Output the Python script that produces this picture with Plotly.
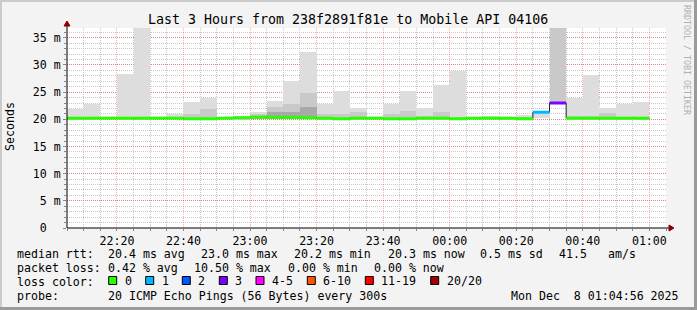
import plotly.graph_objects as go
from datetime import datetime, timedelta

# ---------------- data ----------------
bar_start = ["22:05", "22:10", "22:15", "22:20", "22:25", "22:30", "22:35", "22:40", "22:45", "22:50",
             "22:55", "23:00", "23:05", "23:10", "23:15", "23:20", "23:25", "23:30", "23:35", "23:40",
             "23:45", "23:50", "23:55", "00:00", "00:05", "00:10", "00:15", "00:20", "00:25", "00:30",
             "00:35", "00:40", "00:45", "00:50", "00:55"]
median_ms = [20.2, 20.2, 20.2, 20.2, 20.2, 20.2, 20.2, 20.1, 20.1, 20.2,
             20.3, 20.4, 20.35, 20.35, 20.3, 20.2, 20.1, 20.2, 20.2, 20.1,
             20.1, 20.2, 20.2, 20.1, 20.2, 20.2, 20.2, 20.1, 21.3, 23.0,
             20.2, 20.2, 20.2, 20.2, 20.2]
loss_count = [0] * 28 + [1, 3] + [0] * 5
smoke_min = [20.0] * 28 + [20.3, 23.0] + [20.0] * 5
smoke_max = [21.9, 22.9, 20.0, 28.4, 36.8, 20.0, 21.0, 23.2, 24.0, 20.4,
             20.5, 21.4, 23.4, 27.0, 32.4, 22.8, 25.2, 22.0, 20.0, 22.9,
             25.2, 22.1, 26.3, 28.9, 20.4, 20.7, 20.5, 20.85, 21.3, 36.8,
             24.0, 28.2, 22.0, 22.9, 23.2]
smoke_mid = [20.4, 20.4, 20.0, 20.4, 20.4, 20.0, 20.4, 20.9, 21.9, 20.0,
             20.3, 21.0, 22.3, 22.8, 24.9, 20.9, 21.0, 21.4, 20.0, 20.9,
             21.6, 20.6, 21.4, 20.4, 20.0, 20.4, 20.3, 20.4, 20.3, 36.8,
             20.6, 20.6, 21.1, 20.4, 20.4]
smoke_dark = [20.0] * 11 + [20.7, 21.3, 21.4, 22.3] + [20.0] * 14 + [23.0] + [20.0] * 5

loss_labels = ["0", "1", "2", "3", "4-5", "6-10", "11-19", "20/20"]
loss_colors = ["#26ff00", "#00b8ff", "#0059ff", "#7e00ff", "#ff00ff", "#ff5500", "#ff0000", "#a00000"]
loss_class_of = {0: 0, 1: 1, 2: 2, 3: 3}

y_tickvals = [0, 5, 10, 15, 20, 25, 30, 35]
y_ticktext = ["0\u00a0\u00a0", "5 m", "10 m", "15 m", "20 m", "25 m", "30 m", "35 m"]

title = "Last 3 Hours from 238f2891f81e to Mobile API 04106"
stats_rtt = ["median\u00a0rtt:", "20.4 ms avg", "23.0 ms max", "20.2 ms min", "20.3 ms now", "0.5 ms sd", "41.5", "am/s"]
stats_loss = ["packet loss:", "0.42 % avg", "10.50 % max", "0.00 % min", "0.00 % now"]
probe_text = ["probe:", "20 ICMP Echo Pings (56 Bytes) every 300s"]
date_text = "Mon Dec\u00a0\u00a08 01:04:56 2025"

# ---------------- geometry ----------------
W, H = 697, 310
L, R, T, B = 67, 666, 28, 228
MONO = "DejaVu Sans Mono"


def px(x):
    return (x - L) / (R - L)


def py(y):
    return (B - y) / (B - T)


day0 = datetime(2025, 12, 7)


def to_dt(s):
    h, m = map(int, s.split(":"))
    d = day0 + timedelta(hours=h, minutes=m)
    if h < 12:
        d += timedelta(days=1)
    return d


STEP = timedelta(minutes=5)
starts = [to_dt(s) for s in bar_start]
ends = [s + STEP for s in starts]
centers = [s + STEP / 2 for s in starts]

fig = go.Figure()


def smoke(top, color):
    fig.add_trace(go.Bar(
        x=centers, y=[max(t - b, 0) for t, b in zip(top, smoke_min)], base=smoke_min,
        width=300000, marker=dict(color=color, line=dict(width=0)), showlegend=False,
        hoverinfo="skip"))


smoke(smoke_max, "#dddddd")
smoke(smoke_mid, "#c9c9c9")
smoke(smoke_dark, "#a9a9a9")

# thin dark median step line
fig.add_trace(go.Scatter(x=starts + [ends[-1]], y=median_ms + [median_ms[-1]], mode="lines",
                         line=dict(color="#202020", width=1, shape="hv"), showlegend=False,
                         hoverinfo="skip"))
# coloured median segments by loss class
for ci, col in enumerate(loss_colors):
    xs, ys = [], []
    for s, e, m, lc in zip(starts, ends, median_ms, loss_count):
        if loss_class_of.get(lc, -1) == ci:
            xs += [s, e, None]
            ys += [m, m, None]
    if xs:
        fig.add_trace(go.Scatter(x=xs, y=ys, mode="lines", line=dict(color=col, width=3),
                                 showlegend=False, hoverinfo="skip", connectgaps=False))

major_grid = "rgba(255,0,0,0.32)"
minor_grid = "#c8c8c8"

fig.update_xaxes(
    type="date", range=[day0 + timedelta(hours=22, minutes=5), day0 + timedelta(hours=25, minutes=5)],
    tick0=day0 + timedelta(hours=22, minutes=20), dtick=20 * 60 * 1000, tickformat="%H:%M",
    showgrid=True, gridcolor=major_grid, griddash="1px,1px", gridwidth=1,
    ticks="outside", ticklen=2, tickcolor="#888888",
    minor=dict(dtick=5 * 60 * 1000, showgrid=True, gridcolor=minor_grid, griddash="1px,1px",
               ticks="outside", ticklen=2, tickcolor="#888888"),
    showline=False, zeroline=False, fixedrange=True,
    tickfont=dict(family=MONO, size=11.6, color="black"))
fig.update_yaxes(
    range=[0, 36.8], tickvals=y_tickvals, ticktext=y_ticktext,
    showgrid=True, gridcolor=major_grid, griddash="1px,1px", gridwidth=1,
    ticks="outside", ticklen=3, tickcolor="#888888",
    minor=dict(dtick=1, showgrid=True, gridcolor=minor_grid, griddash="1px,1px",
               ticks="outside", ticklen=2, tickcolor="#888888"),
    showline=False, zeroline=False, fixedrange=True,
    tickfont=dict(family=MONO, size=11.6, color="black"))

shapes = []
# frame (3D border)
shapes.append(dict(type="rect", xref="paper", yref="paper", x0=px(0), x1=px(W), y0=py(0), y1=py(2),
                   fillcolor="#cbcbcb", line=dict(width=0), layer="above"))
shapes.append(dict(type="rect", xref="paper", yref="paper", x0=px(0), x1=px(2), y0=py(0), y1=py(H),
                   fillcolor="#cbcbcb", line=dict(width=0), layer="above"))
shapes.append(dict(type="rect", xref="paper", yref="paper", x0=px(0), x1=px(W), y0=py(H - 3), y1=py(H),
                   fillcolor="#9a9a9a", line=dict(width=0), layer="above"))
shapes.append(dict(type="rect", xref="paper", yref="paper", x0=px(W - 3), x1=px(W), y0=py(0), y1=py(H),
                   fillcolor="#9a9a9a", line=dict(width=0), layer="above"))
# axes lines with arrows
shapes.append(dict(type="line", xref="paper", yref="paper", x0=px(67), x1=px(670), y0=py(228), y1=py(228),
                   line=dict(color="black", width=1), layer="above"))
shapes.append(dict(type="line", xref="paper", yref="paper", x0=px(67), x1=px(67), y0=py(228), y1=py(25),
                   line=dict(color="black", width=1), layer="above"))
shapes.append(dict(type="path", xref="paper", yref="paper",
                   path=f"M {px(674)} {py(228)} L {px(669)} {py(225)} L {px(669)} {py(231)} Z",
                   fillcolor="#8b0000", line=dict(color="#8b0000", width=1), layer="above"))
shapes.append(dict(type="path", xref="paper", yref="paper",
                   path=f"M {px(67)} {py(21)} L {px(64)} {py(26)} L {px(70)} {py(26)} Z",
                   fillcolor="#8b0000", line=dict(color="#8b0000", width=1), layer="above"))

# loss colour boxes
box_x = [108.7, 145.7, 182.3, 219.3, 256.0, 307.3, 365.3, 430.7]
for bx, col in zip(box_x, loss_colors):
    shapes.append(dict(type="rect", xref="paper", yref="paper", x0=px(bx), x1=px(bx + 8),
                       y0=py(284.5), y1=py(276.5), fillcolor=col, line=dict(color="black", width=1),
                       layer="above"))

ann = []


def text(x, y, s, size=11.6, anchor="left", color="black", angle=0):
    ann.append(dict(xref="paper", yref="paper", x=px(x), y=py(y), text=s, showarrow=False,
                    xanchor=anchor, yanchor="middle", textangle=angle, borderpad=0,
                    font=dict(family=MONO, size=size, color=color)))


def nb(s):
    return s.replace(" ", "\u00a0")


text(347.5, 19, nb(title), size=13.3, anchor="center")
text(10, 127, "Seconds", size=11.6, anchor="center", angle=-90)
text(687, 60, nb("RRDTOOL / TOBI OETIKER"), size=8.3, anchor="center", color="#b0b0b0", angle=90)

rtt_x = [16, 107, 200, 293, 386.7, 479.3, 558, 606.7]
for x, s in zip(rtt_x, stats_rtt):
    text(x, 254, nb(s))
loss_x = [16, 107, 193, 286.7, 372.7]
for x, s in zip(loss_x, stats_loss):
    text(x, 268, nb(s))
text(16, 282, nb("loss color:"))
for bx, lab in zip(box_x, loss_labels):
    text(bx + 15, 281, lab)
text(16, 296, nb(probe_text[0]))
text(107, 296, nb(probe_text[1]))
text(680, 296, date_text, anchor="right")

fig.update_layout(
    width=W, height=H, margin=dict(l=L, r=W - R, t=T, b=H - B),
    paper_bgcolor="#f3f3f3", plot_bgcolor="white", barmode="overlay", bargap=0,
    showlegend=False, shapes=shapes, annotations=ann,
    font=dict(family=MONO, size=11.6, color="black"))

fig.write_html("out.html")
